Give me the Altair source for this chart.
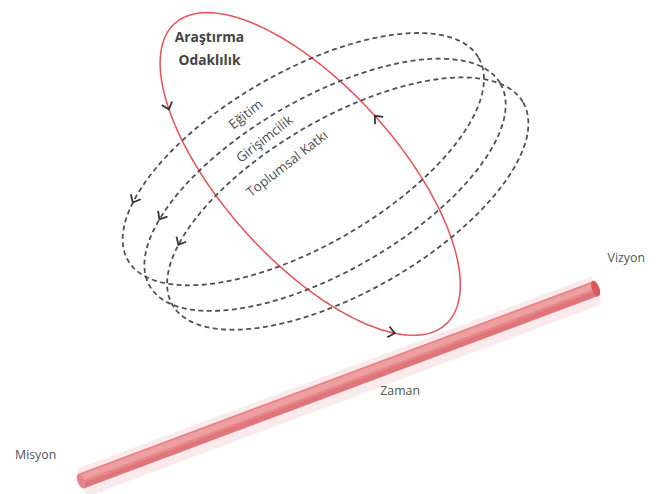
import numpy as np
import pandas as pd
import altair as alt

W, H = 640, 478
X0, Y0 = 8, 8

# --- red ellipse (Araştırma Odaklılık) ---
red_center = [314, 173]
red_axes = [205, 88]
red_tilt = 48
red_arrow_x = [163, 380, 400]
red_arrow_y = [110, 113, 333]

# --- dashed ellipses ---
dash_names = ["Eğitim", "Girişimcilik", "Toplumsal Katkı"]
dash_cx = [307, 329, 352]
dash_cy = [158, 184, 203]
dash_axes = [205, 88]
dash_tilt = -30
dash_arrow_x = [137, 166, 190]
dash_arrow_y = [203, 222, 250]
label_x = [249, 268, 291]
label_y = [113, 138, 163]
label_angle = 322

# --- title ---
title_lines = ["Araştırma", "Odaklılık"]
title_x = [212, 212]
title_y = [35, 59]

# --- time pipe ---
pipe_x = [82, 603]
pipe_y = [484, 289]
end_labels = ["Misyon", "Zaman", "Vizyon"]
end_x = [36, 405, 634]
end_y = [458, 393, 258]


def ellipse(cx, cy, a, b, tilt, n=361):
    th = np.radians(tilt)
    u = np.array([np.cos(th), np.sin(th)])
    v = np.array([-u[1], u[0]])
    t = np.linspace(0, 2 * np.pi, n)
    px = cx + a * np.cos(t) * u[0] + b * np.sin(t) * v[0]
    py = cy + a * np.cos(t) * u[1] + b * np.sin(t) * v[1]
    dx = -(-a * np.sin(t) * u[0] + b * np.cos(t) * v[0])
    dy = -(-a * np.sin(t) * u[1] + b * np.cos(t) * v[1])
    return px, py, dx, dy


def arrows(cx, cy, a, b, tilt, ax, ay):
    px, py, dx, dy = ellipse(cx, cy, a, b, tilt, 1441)
    out = []
    for x, y in zip(ax, ay):
        k = int(np.argmin((px - x) ** 2 + (py - y) ** 2))
        ang = float(np.degrees(np.arctan2(dy[k], dx[k]))) % 360
        out.append({"x": px[k], "y": py[k], "ang": ang})
    return out


px, py, _, _ = ellipse(red_center[0], red_center[1], red_axes[0], red_axes[1], red_tilt)
red_df = pd.DataFrame({"x": px, "y": py, "i": np.arange(len(px))})

dash_rows = []
dash_arrows = []
for name, cx, cy, axx, ayy in zip(dash_names, dash_cx, dash_cy, dash_arrow_x, dash_arrow_y):
    px, py, _, _ = ellipse(cx, cy, dash_axes[0], dash_axes[1], dash_tilt)
    for i, (x, y) in enumerate(zip(px, py)):
        dash_rows.append({"name": name, "x": x, "y": y, "i": i})
    dash_arrows += arrows(cx, cy, dash_axes[0], dash_axes[1], dash_tilt, [axx], [ayy])
dash_df = pd.DataFrame(dash_rows)
red_arr_df = pd.DataFrame(arrows(red_center[0], red_center[1], red_axes[0], red_axes[1],
                                 red_tilt, red_arrow_x, red_arrow_y))
dash_arr_df = pd.DataFrame(dash_arrows)

labels_df = pd.DataFrame({"x": label_x, "y": label_y, "t": dash_names})
title_df = pd.DataFrame({"x": title_x, "y": title_y, "t": title_lines})
end_df = pd.DataFrame({"x": end_x, "y": end_y, "t": end_labels})

# pipe with offsets perpendicular to its axis
d = np.array([pipe_x[1] - pipe_x[0], pipe_y[1] - pipe_y[0]], dtype=float)
d /= np.linalg.norm(d)
nrm = np.array([-d[1], d[0]])
if nrm[1] < 0:
    nrm = -nrm


def pipe_line(off, tag):
    return pd.DataFrame({"x": [pipe_x[0] + nrm[0] * off, pipe_x[1] + nrm[0] * off],
                         "y": [pipe_y[0] + nrm[1] * off, pipe_y[1] + nrm[1] * off],
                         "i": [0, 1], "k": tag})


pipe_angle = float(np.degrees(np.arctan2(d[1], d[0]))) % 360
cap_df = pd.DataFrame({"x": [pipe_x[1]], "y": [pipe_y[1]]})
lcap_df = pd.DataFrame({"x": [pipe_x[0]], "y": [pipe_y[0]]})

xs = alt.X("x:Q", scale=alt.Scale(domain=[X0, X0 + W], nice=False, zero=False), axis=None)
ys = alt.Y("y:Q", scale=alt.Scale(domain=[Y0, Y0 + H], nice=False, zero=False, reverse=True), axis=None)

layers = []
layers.append(alt.Chart(pipe_line(2, "glow")).mark_line(strokeWidth=30, color="#f7d6d7", opacity=0.5, strokeCap="butt")
              .encode(x=xs, y=ys, order="i:Q"))
layers.append(alt.Chart(pipe_line(0, "body")).mark_line(strokeWidth=16, color="#e6868a", strokeCap="butt")
              .encode(x=xs, y=ys, order="i:Q"))
layers.append(alt.Chart(pipe_line(5, "dark")).mark_line(strokeWidth=5, color="#dc7075", opacity=0.8, strokeCap="butt")
              .encode(x=xs, y=ys, order="i:Q"))
layers.append(alt.Chart(pipe_line(-3, "hl")).mark_line(strokeWidth=6, color="#efa5a8", opacity=0.8, strokeCap="butt")
              .encode(x=xs, y=ys, order="i:Q"))
ell_path = "M0,-1A0.45,1,0,1,1,0,1A0.45,1,0,1,1,0,-1Z"
layers.append(alt.Chart(cap_df).mark_point(shape=ell_path, size=280, filled=True, color="#d65a60", opacity=1, angle=pipe_angle)
              .encode(x=xs, y=ys))
layers.append(alt.Chart(lcap_df).mark_point(shape=ell_path, size=250, filled=True, color="#e2868a", opacity=1, angle=pipe_angle)
              .encode(x=xs, y=ys))

layers.append(alt.Chart(red_df).mark_line(color="#e05a60", strokeWidth=1.6)
              .encode(x=xs, y=ys, order="i:Q"))
layers.append(alt.Chart(dash_df).mark_line(color="#505050", strokeWidth=1.8, strokeDash=[5, 3.5])
              .encode(x=xs, y=ys, order="i:Q", detail="name:N"))

chev = "M-1,-0.85L0,0L-1,0.85"
layers.append(alt.Chart(red_arr_df).mark_point(shape=chev, size=170, filled=False, color="#333333", strokeWidth=1.8, opacity=1)
              .encode(x=xs, y=ys, angle=alt.Angle("ang:Q", scale=None)))
layers.append(alt.Chart(dash_arr_df).mark_point(shape=chev, size=170, filled=False, color="#333333", strokeWidth=1.8, opacity=1)
              .encode(x=xs, y=ys, angle=alt.Angle("ang:Q", scale=None)))

layers.append(alt.Chart(labels_df).mark_text(font="Open Sans", fontSize=13.5, color="#4d4d4d", angle=label_angle)
              .encode(x=xs, y=ys, text="t:N"))
layers.append(alt.Chart(title_df).mark_text(font="Open Sans", fontSize=14, fontWeight="bold", color="#444444")
              .encode(x=xs, y=ys, text="t:N"))
layers.append(alt.Chart(end_df).mark_text(font="Open Sans", fontSize=12.5, color="#555555")
              .encode(x=xs, y=ys, text="t:N"))

chart = alt.layer(*layers).properties(
    width=W, height=H,
    autosize=alt.AutoSizeParams(type="none"),
    padding={"left": 0, "top": 0, "right": 8, "bottom": 8},
    background="white",
).configure_view(stroke=None)

chart.save("out.html", embed_options={"renderer": "svg", "actions": False})
